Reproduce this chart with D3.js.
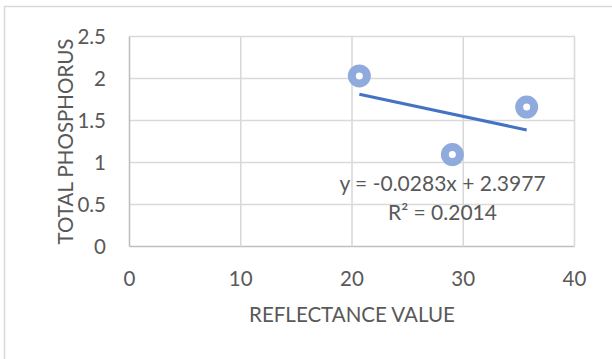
<!DOCTYPE html>
<html>
<head>
<meta charset="utf-8">
<script src="https://cdn.jsdelivr.net/npm/d3@7"></script>
<style>
  html, body { margin: 0; padding: 0; background: #fff; }
  svg { display: block; font-family: Lato, "Open Sans", sans-serif; }
  .tick-label, .axis-title, .equation { fill: #595959; }
</style>
</head>
<body>
<svg id="chart" width="612" height="359"></svg>
<script>
// data
var reflectance = [20.66, 29.02, 35.7];
var phosphorus = [2.03, 1.095, 1.66];
var xTicks = [0, 10, 20, 30, 40];
var yTicks = [0, 0.5, 1, 1.5, 2, 2.5];
var trendSlope = -0.0283;
var trendIntercept = 2.3977;
var equationLines = ['y = -0.0283x + 2.3977', 'R² = 0.2014'];
var xTitle = 'REFLECTANCE VALUE';
var yTitle = 'TOTAL PHOSPHORUS';

var svg = d3.select('#chart');

var x = d3.scaleLinear().domain([0, 40]).range([129.5, 574.5]);
var y = d3.scaleLinear().domain([0, 2.5]).range([246.5, 36.5]);

// outer chart border (runs off the right and bottom of the picture)
svg.append('rect')
    .attr('x', 4.5).attr('y', 6.5)
    .attr('width', 640).attr('height', 400)
    .attr('fill', 'none')
    .attr('stroke', '#d9d9d9')
    .attr('stroke-width', 1.5);

// gridlines
var grid = svg.append('g').attr('class', 'grid');

grid.selectAll('.hgrid')
    .data(yTicks)
    .enter().append('line')
    .attr('class', 'hgrid')
    .attr('x1', x(0)).attr('x2', x(40))
    .attr('y1', function(d){ return y(d); })
    .attr('y2', function(d){ return y(d); })
    .attr('stroke', function(d){ return d === 0 ? '#bfbfbf' : '#d9d9d9'; })
    .attr('stroke-width', 1.6);

grid.selectAll('.vgrid')
    .data(xTicks)
    .enter().append('line')
    .attr('class', 'vgrid')
    .attr('y1', y(0)).attr('y2', y(2.5))
    .attr('x1', function(d){ return x(d); })
    .attr('x2', function(d){ return x(d); })
    .attr('stroke', function(d){ return d === 0 ? '#bfbfbf' : '#d9d9d9'; })
    .attr('stroke-width', 1.6);

// tick labels
svg.append('g').selectAll('text')
    .data(yTicks)
    .enter().append('text')
    .attr('class', 'tick-label')
    .attr('x', 106)
    .attr('y', function(d){ return y(d); })
    .attr('dy', '0.36em')
    .attr('text-anchor', 'end')
    .style('font-size', '20.5px')
    .text(function(d){ return d3.format('')(d); });

svg.append('g').selectAll('text')
    .data(xTicks)
    .enter().append('text')
    .attr('class', 'tick-label')
    .attr('x', function(d){ return x(d); })
    .attr('y', 286)
    .attr('text-anchor', 'middle')
    .style('font-size', '20.5px')
    .text(function(d){ return d; });

// axis titles
svg.append('text')
    .attr('class', 'axis-title')
    .attr('x', (x(0) + x(40)) / 2)
    .attr('y', 322)
    .attr('text-anchor', 'middle')
    .style('font-size', '20.5px')
    .text(xTitle);

svg.append('text')
    .attr('class', 'axis-title')
    .attr('transform', 'translate(73,' + ((y(0) + y(2.5)) / 2) + ') rotate(-90)')
    .attr('text-anchor', 'middle')
    .style('font-size', '20.5px')
    .text(yTitle);

// linear trendline across the range of the data
var xExtent = d3.extent(reflectance);
var trend = xExtent.map(function(v){ return [v, trendIntercept + trendSlope * v]; });

svg.append('path')
    .datum(trend)
    .attr('fill', 'none')
    .attr('stroke', '#4472c4')
    .attr('stroke-width', 3)
    .attr('d', d3.line()
        .x(function(d){ return x(d[0]); })
        .y(function(d){ return y(d[1]); }));

// markers
svg.append('g').selectAll('circle')
    .data(d3.zip(reflectance, phosphorus))
    .enter().append('circle')
    .attr('cx', function(d){ return x(d[0]); })
    .attr('cy', function(d){ return y(d[1]); })
    .attr('r', 7.5)
    .attr('fill', '#fff')
    .attr('stroke', '#8faadc')
    .attr('stroke-width', 8);

// trendline equation
svg.append('g').selectAll('text')
    .data(equationLines)
    .enter().append('text')
    .attr('class', 'equation')
    .attr('x', 442.5)
    .attr('y', function(d, i){ return 191 + i * 29; })
    .attr('text-anchor', 'middle')
    .style('font-size', '21px')
    .text(function(d){ return d; });
</script>
</body>
</html>
